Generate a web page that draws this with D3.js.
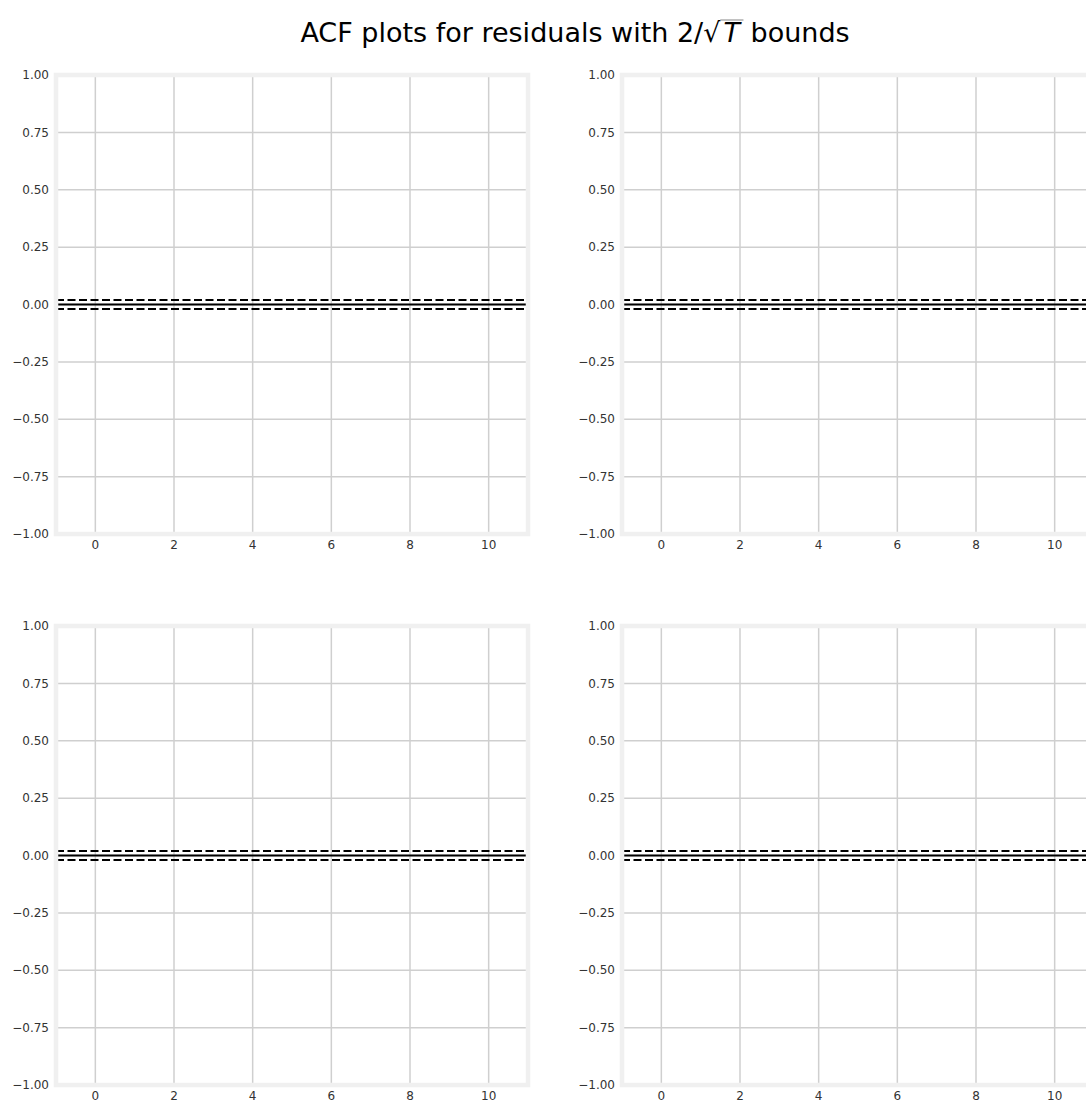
<!DOCTYPE html>
<html>
<head>
<meta charset="utf-8">
<script src="https://cdn.jsdelivr.net/npm/d3@7"></script>
<style>
  body { margin: 0; background: #fff; }
  text { font-family: 'DejaVu Sans', sans-serif; }
</style>
</head>
<body>
<div id="vis"></div>
<script>
// chart values
var xTicks = [0, 2, 4, 6, 8, 10]
var yTicks = [-1, -0.75, -0.5, -0.25, 0, 0.25, 0.5, 0.75, 1]
var xDomain = [-1, 11]
var yDomain = [-1, 1]
var bound = 0.02 // 2/sqrt(T)
var panels = ['r1', 'r2', 'r3', 'r4']

var W = 1086, H = 1102

var svg = d3.select('#vis').append('svg').attr('width', W).attr('height', H)

// panel boxes (left, right, top, bottom) in pixels
var boxes = [
  { x0: 56, x1: 528, y0: 75, y1: 534 },
  { x0: 622, x1: 1094, y0: 75, y1: 534 },
  { x0: 56, x1: 528, y0: 626, y1: 1085 },
  { x0: 622, x1: 1094, y0: 626, y1: 1085 },
]

var fmt = d3.format('.2f')

panels.forEach(function (p, i) {
  var b = boxes[i]
  var x = d3.scaleLinear().domain(xDomain).range([b.x0, b.x1])
  var y = d3.scaleLinear().domain(yDomain).range([b.y1, b.y0])
  var g = svg.append('g')

  // grid
  g.selectAll('.vg').data(xTicks).enter().append('line')
    .attr('x1', function (d) { return x(d) }).attr('x2', function (d) { return x(d) })
    .attr('y1', b.y0).attr('y2', b.y1)
    .attr('stroke', '#cfcfcf').attr('stroke-width', 1.5)
  g.selectAll('.hg').data(yTicks).enter().append('line')
    .attr('x1', b.x0).attr('x2', b.x1)
    .attr('y1', function (d) { return y(d) }).attr('y2', function (d) { return y(d) })
    .attr('stroke', '#cfcfcf').attr('stroke-width', 1.5)

  // zero line and bounds
  g.append('line').attr('x1', b.x0).attr('x2', b.x1).attr('y1', y(0)).attr('y2', y(0))
    .attr('stroke', '#000').attr('stroke-width', 2)
  ;[bound, -bound].forEach(function (v) {
    g.append('line').attr('x1', b.x0).attr('x2', b.x1).attr('y1', y(v)).attr('y2', y(v))
      .attr('stroke', '#000').attr('stroke-width', 2).attr('stroke-dasharray', '8,3.5')
  })

  // spines
  g.append('rect').attr('x', b.x0).attr('y', b.y0)
    .attr('width', b.x1 - b.x0).attr('height', b.y1 - b.y0)
    .attr('fill', 'none').attr('stroke', '#f0f0f0').attr('stroke-width', 4.5)

  // tick labels
  g.selectAll('.yl').data(yTicks).enter().append('text')
    .attr('x', b.x0 - 7).attr('y', function (d) { return y(d) })
    .attr('dy', '0.35em').attr('text-anchor', 'end')
    .attr('font-size', 12).attr('fill', '#333')
    .text(function (d) { return fmt(d).replace('-', '\u2212') })
  g.selectAll('.xl').data(xTicks).enter().append('text')
    .attr('x', function (d) { return x(d) }).attr('y', b.y1 + 15)
    .attr('text-anchor', 'middle')
    .attr('font-size', 12).attr('fill', '#333')
    .text(function (d) { return d })
})

// title with 2/sqrt(T)
var title = svg.append('text').attr('y', 42).attr('font-size', 27).attr('fill', '#000')
title.append('tspan').text('ACF plots for residuals with 2/')
title.append('tspan').attr('id', 'sq').text('\u221A')
title.append('tspan').attr('id', 'tt').attr('dx', 3).attr('font-style', 'italic').text('T')
title.append('tspan').attr('dx', 2).text(' bounds')
var tw = title.node().getBBox().width
title.attr('x', 575 - tw / 2)
var bbT = document.getElementById('tt').getBBox()
var bbS = document.getElementById('sq').getBBox()
svg.append('line')
  .attr('x1', bbS.x + bbS.width - 1).attr('x2', bbT.x + bbT.width + 1)
  .attr('y1', bbS.y + 3).attr('y2', bbS.y + 3)
  .attr('stroke', '#999').attr('stroke-width', 1.2)
</script>
</body>
</html>
